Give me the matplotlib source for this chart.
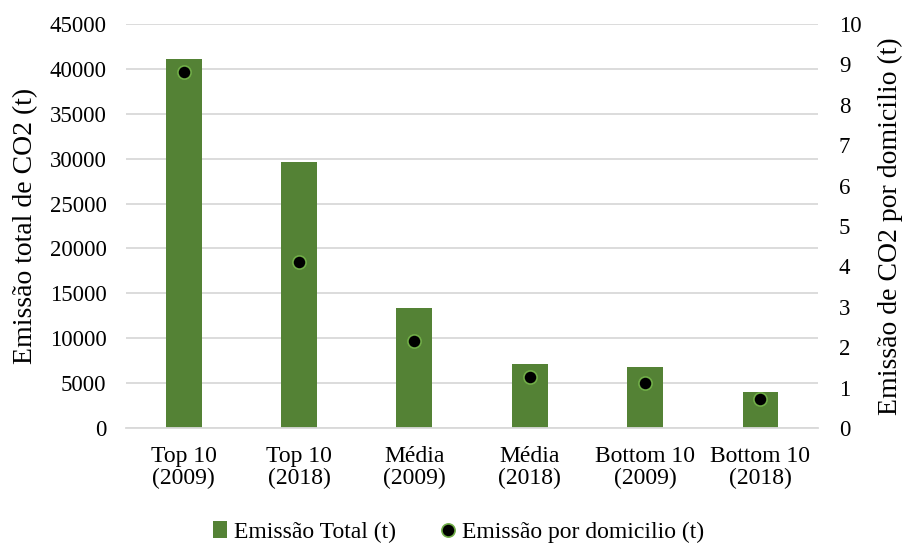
import matplotlib.pyplot as plt
import numpy as np

# Emissions by household group
categories = ['Top 10\n(2009)', 'Top 10\n(2018)', 'Média\n(2009)',
              'Média\n(2018)', 'Bottom 10\n(2009)', 'Bottom 10\n(2018)']
emissao_total = [41100, 29600, 13400, 7100, 6800, 4000]
emissao_domicilio = [8.8, 4.1, 2.15, 1.26, 1.11, 0.72]

plt.rcParams['font.family'] = ['Liberation Serif', 'DejaVu Serif']
plt.rcParams['font.size'] = 17

green = '#548235'
grid_color = '#d9d9d9'

fig = plt.figure(figsize=(9.03, 5.47), dpi=100)
ax = fig.add_axes([0.1395, 0.2176, 0.7665, 0.7386])
x = np.arange(len(categories))

bars = ax.bar(x, emissao_total, width=0.31, color=green, zorder=2,
              label='Emissão Total (t)')
ax.set_xlim(-0.5, len(categories) - 0.5)
ax.set_ylim(0, 45000)
ax.set_yticks(np.arange(0, 45001, 5000))
ax.yaxis.grid(True, color=grid_color, linewidth=1.3, zorder=0)
ax.set_axisbelow(True)
ax.set_xticks(x)
ax.set_xticklabels(categories, linespacing=1.05)
ax.tick_params(axis='y', length=0, pad=14, labelsize=16.5)
ax.tick_params(axis='x', length=0, pad=13)
for s in ['top', 'left', 'right']:
    ax.spines[s].set_visible(False)
ax.spines['bottom'].set_color(grid_color)
ax.spines['bottom'].set_linewidth(1.3)
ax.set_ylabel('Emissão total de CO2 (t)', fontsize=20, labelpad=8)

ax2 = ax.twinx()
pts, = ax2.plot(x, emissao_domicilio, linestyle='none', marker='o',
                markersize=9.5, markerfacecolor='black',
                markeredgecolor='#70ad47', markeredgewidth=1.2, zorder=3,
                label='Emissão por domicilio (t)')
ax2.set_ylim(0, 10)
ax2.set_yticks(np.arange(0, 11, 1))
ax2.tick_params(axis='y', length=0, pad=15, labelsize=16.5)
for s in ax2.spines.values():
    s.set_visible(False)
ax2.set_ylabel('Emissão de CO2 por domicilio (t)', fontsize=20, labelpad=12)

fig.legend([bars, pts], ['Emissão Total (t)', 'Emissão por domicilio (t)'],
           loc='center', bbox_to_anchor=(0.508, 0.027), ncol=2, frameon=False,
           handlelength=0.6, handletextpad=0.3, columnspacing=1.9,
           fontsize=17)

plt.savefig('out.png', dpi=100)
